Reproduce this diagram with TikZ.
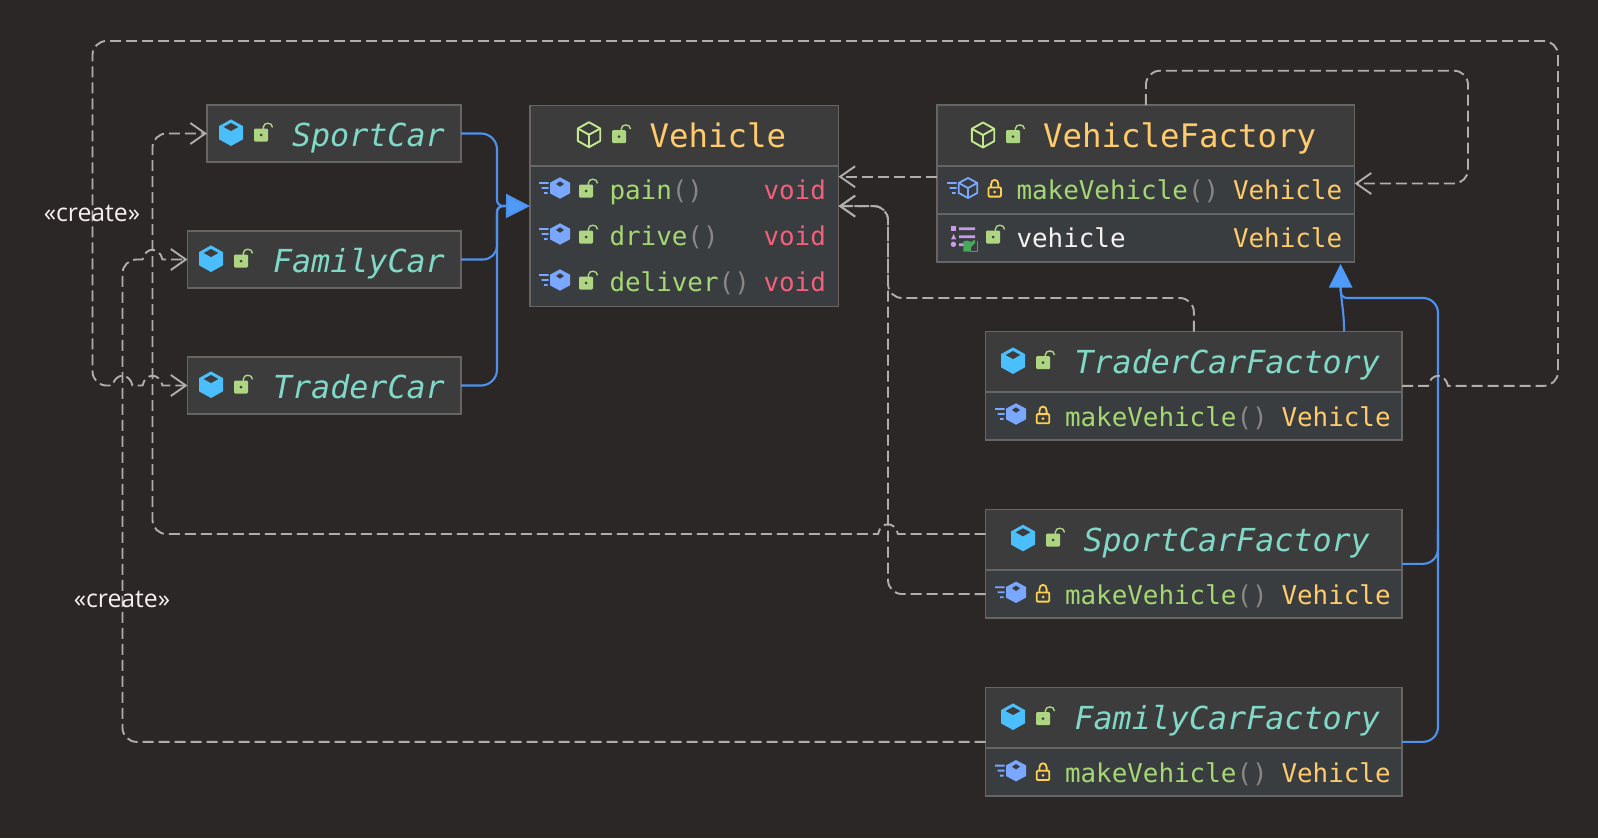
\documentclass[tikz,border=0pt]{standalone}
\usepackage{fontspec}
\usetikzlibrary{arrows.meta,calc}
\newfontfamily\umlmono{DejaVu Sans Mono}
\newfontfamily\labelfont{Open Sans}
\definecolor{bgc}{HTML}{2B2727}
\definecolor{headc}{HTML}{3C3C3C}
\definecolor{bodyc}{HTML}{393D40}
\definecolor{edgec}{HTML}{666564}
\definecolor{dashc}{HTML}{B0AEAC}
\definecolor{bluec}{HTML}{4E92EE}
\definecolor{tipc}{HTML}{4F9BF7}
\definecolor{cubec}{HTML}{4BBEFC}
\definecolor{methc}{HTML}{7AA7FF}
\definecolor{lockg}{HTML}{AED581}
\definecolor{lockout}{HTML}{C3E88D}
\definecolor{locky}{HTML}{FFD04F}
\definecolor{tealc}{HTML}{80D8C6}
\definecolor{yelc}{HTML}{FFCB6B}
\definecolor{grnc}{HTML}{A5D773}
\definecolor{redc}{HTML}{F2607C}
\definecolor{parc}{HTML}{8A8686}
\definecolor{whc}{HTML}{F7F1F2}
\definecolor{purc}{HTML}{C99BEA}
\definecolor{bookc}{HTML}{46A858}
\newcommand{\parens}{{\color{parc}()}}
\newcommand{\compart}[4]{\fill[bodyc] (#1+0.8,#2) rectangle (#3-0.8,#4-0.8);\draw[edgec,line width=1.6pt] (#1,#2) -- (#3,#2);}
\tikzset{
  x=1pt,y=-1pt,
  umlbox/.style={draw=edgec,fill=headc,line width=1.5pt,inner sep=0pt,outer sep=0pt},
  ttl/.style={anchor=base west,inner sep=0pt,outer sep=0pt,font=\umlmono\fontsize{32.4}{33}\selectfont},
  ittl/.style={anchor=base west,inner sep=0pt,outer sep=0pt,text=tealc,font=\umlmono\itshape\fontsize{31.7}{32}\selectfont},
  mem/.style={anchor=base west,inner sep=0pt,outer sep=0pt,font=\umlmono\fontsize{25.9}{26}\selectfont},
  stereo/.style={anchor=base,inner sep=0pt,outer sep=0pt,text=whc,font=\labelfont\fontsize{24.8}{25}\selectfont},
  dep/.style={draw=dashc,line width=1.9pt,dash pattern=on 11pt off 5pt,rounded corners=14pt},
  bar/.style={-{Straight Barb[length=15pt,width=21pt,line width=1.9pt]}},
  inh/.style={draw=bluec,line width=2.1pt},
  solidcube/.pic={
    \fill[cubec] (0,-13.3)--(12,-6.6)--(12,6.6)--(0,13.3)--(-12,6.6)--(-12,-6.6)--cycle;
    \fill[headc] (0,-9.7)--(7.3,-5.7)--(0,-1.7)--(-7.3,-5.7)--cycle;
  },
  linecube/.pic={
    \draw[lockout,line width=1.9pt,line join=round] (0,-12.5)--(11.2,-6.2)--(11.2,6.2)--(0,12.5)--(-11.2,6.2)--(-11.2,-6.2)--cycle;
    \draw[lockout,line width=1.9pt,line join=round] (-11.2,-6.2)--(0,0)--(11.2,-6.2) (0,0)--(0,12.5);
  },
  stripes/.pic={
    \fill[methc] (-21,-6)rectangle(-11.5,-4.2) (-18.5,-1)rectangle(-11.5,0.8) (-16,4)rectangle(-12.5,5.8);
  },
  methhex/.pic={
    \pic{stripes};
    \fill[methc] (0,-10.7)--(10,-5.3)--(10,5.3)--(0,10.7)--(-10,5.3)--(-10,-5.3)--cycle;
    \fill[bodyc] (0,-6.7)--(4,-4)--(0,-1.3)--(-4,-4)--cycle;
  },
  methline/.pic={
    \pic{stripes};
    \draw[methc,line width=1.8pt,line join=round] (0,-10)--(9.3,-5)--(9.3,5)--(0,10)--(-9.3,5)--(-9.3,-5)--cycle;
    \draw[methc,line width=1.8pt,line join=round] (-9.3,-5)--(0,0)--(9.3,-5) (0,0)--(0,10);
  },
  lockopen/.pic={
    \fill[lockg,rounded corners=1.2pt] (-7,-6.5) rectangle (7,6.5);
    \fill[headc] (0,0) circle (1.5);
    \draw[lockg,line width=1.4pt] (2.4,-6) -- (2.4,-8) .. controls (2.4,-13) and (11.5,-13.2) .. (11.5,-7.6);
  },
  lockshut/.pic={
    \draw[locky,line width=1.8pt,rounded corners=1pt] (-6.3,-4.6) rectangle (6.3,4.6);
    \fill[locky] (0,0) circle (1.5);
    \draw[locky,line width=1.8pt] (-3.6,-4.6) -- (-3.6,-8) .. controls (-3.6,-13.5) and (3.6,-13.5) .. (3.6,-8) -- (3.6,-4.6);
  },
  fieldglyph/.pic={
    \fill[purc] (0,0) rectangle (5.2,5.3);
    \fill[purc] (0,13.3) -- (2.6,8) -- (5.2,13.3) -- cycle;
    \fill[purc] (2.4,18.3) circle (2.7);
    \fill[purc] (8,1.3) rectangle (24,4) (8,9.3) rectangle (24,12) (8,17.3) rectangle (14,20);
    \fill[bookc] (12.3,15.5) -- (16,14.5) -- (20.2,16) -- (20.2,25.7) -- (12.3,25.7) -- cycle;
    \fill[bookc] (20.2,16) -- (24,13.5) -- (24,17) -- (20.2,21) -- cycle;
    \draw[bookc,line width=1pt] (20.2,25.4) -- (26.4,25.4) -- (26.4,15);
  },
}
\begin{document}
\begin{tikzpicture}
\useasboundingbox (0,0) rectangle (1598,838);
\fill[bgc] (0,0) rectangle (1598,838);

% boxes
\node[umlbox,minimum width=254pt,minimum height=57pt] (sportcar) at (334,133.5) {};
\node[umlbox,minimum width=273.5pt,minimum height=57pt] (familycar) at (324.25,259.5) {};
\node[umlbox,minimum width=273.5pt,minimum height=57pt] (tradercar) at (324.25,385.5) {};
\node[umlbox,minimum width=308.5pt,minimum height=201.2pt] (vehicle) at (684.25,206.1) {};
\compart{530}{166}{838.5}{306.7}
\node[umlbox,minimum width=417.4pt,minimum height=157pt] (vfactory) at (1145.9,183.5) {};
\compart{937.2}{166}{1354.6}{262}
\draw[edgec,line width=1.6pt] (937.2,214) -- (1354.6,214);
\node[umlbox,minimum width=416.3pt,minimum height=108.3pt] (tfactory) at (1193.85,385.85) {};
\compart{985.7}{391.7}{1402}{440}
\node[umlbox,minimum width=416.3pt,minimum height=108.3pt] (sfactory) at (1193.85,563.85) {};
\compart{985.7}{569.7}{1402}{618}
\node[umlbox,minimum width=416.3pt,minimum height=108.3pt] (ffactory) at (1193.85,741.85) {};
\compart{985.7}{748}{1402}{796}

% generalisations
\draw[inh] (sportcar.east) [rounded corners=16pt] -- (497,133.5) [rounded corners=6pt] -- (497,206) -- (510,206);
\draw[inh] (familycar.east) [rounded corners=14pt] -- (497,259.5) [rounded corners=6pt] -- (497,206) -- (510,206);
\draw[inh] (tradercar.east) [rounded corners=16pt] -- (497,385.5) [rounded corners=6pt] -- (497,206) -- (510,206);
\draw[inh,-{Triangle[length=24pt,width=24pt,fill=tipc]},draw=bluec] (507,206) -- (vehicle.west);
\draw[inh] (sfactory.east) [rounded corners=15pt] -- (1438,563.85) -- (1438,530);
\draw[inh] (ffactory.east) [rounded corners=15pt] -- (1438,741.85) -- (1438,500) [rounded corners=15pt] -- (1438,298) [rounded corners=6pt] -- (1341,298) -- (1340.5,285);
\draw[inh] ([xshift=150.3pt]tfactory.north) .. controls (1344,312) and (1341,300) .. (1340.5,285);
\draw[draw=none,fill=tipc] ([xshift=-14pt,yshift=-2pt]vfactory.south east) -- ([xshift=-25.8pt,yshift=-25.5pt]vfactory.south east) -- ([xshift=-2.2pt,yshift=-25.5pt]vfactory.south east) -- cycle;

% dependencies
\coordinate (vfport) at ([yshift=6.8pt]vfactory.west);
\draw[dep,bar] (vfport) -- (vfport -| vehicle.east);
\draw[dep,bar] (vfactory.north) -- (1146,70.7) -- (1468,70.7) -- (1468,183.5) -- (vfactory.east);
\draw[dep,bar] (tfactory.north) -- (1193.85,298) -- (888,298) -- (888,206.1) -- (vehicle.east);
\draw[dep,bar] ([yshift=-30.2pt]sfactory.west) -- (888,594) -- (888,206.1) -- (vehicle.east);
\draw[dep,bar] ([yshift=29.85pt]sfactory.west) [sharp corners] -- (898,534) .. controls (895,521) and (881,521) .. (878,534) -- (860,534) [rounded corners=14pt] -- (152.5,534) -- (152.5,133.5) -- (sportcar.west);
\draw[dep,bar,sharp corners] (ffactory.west) -- (136.5,741.85) .. controls (128.8,741.85) and (122.5,735.55) .. (122.5,727.85) -- (122.5,273.5) .. controls (122.5,265.8) and (128.8,259.5) .. (136.5,259.5) -- (142.5,259.5) .. controls (145.5,246.5) and (159.5,246.5) .. (162.5,259.5) -- (familycar.west);
\draw[dep,bar,sharp corners] (tfactory.east) -- (1428,385.85) .. controls (1431,372.5) and (1445,372.5) .. (1448,385.85) -- (1544,385.85) .. controls (1551.7,385.85) and (1558,379.55) .. (1558,371.85) -- (1558,55) .. controls (1558,47.3) and (1551.7,41) .. (1544,41) -- (106.5,41) .. controls (98.8,41) and (92.5,47.3) .. (92.5,55) -- (92.5,371.5) .. controls (92.5,379.2) and (98.8,385.5) .. (106.5,385.5) -- (112.5,385.5) .. controls (115.5,372.5) and (129.5,372.5) .. (132.5,385.5) -- (142.5,385.5) .. controls (145.5,372.5) and (159.5,372.5) .. (162.5,385.5) -- (tradercar.west);

% stereotype labels
\node[stereo] (create1) at (92,221.7) {«create»};
\node[stereo] (create2) at (122,607) {«create»};

% icons
\pic at (231,132.7) {solidcube}; \pic at (261,135) {lockopen};
\pic at (211,258.7) {solidcube}; \pic at (241,261) {lockopen};
\pic at (211,384.7) {solidcube}; \pic at (241,387) {lockopen};
\pic at (589,134.7) {linecube}; \pic at (619,136.7) {lockopen};
\foreach \yy in {188,234,280} {\pic at (560,\yy) {methhex}; \pic at (586,\yy+3) {lockopen};}
\pic at (983,135) {linecube}; \pic at (1013,136.7) {lockopen};
\pic at (968,188) {methline}; \pic at (994.7,192) {lockshut};
\pic at (951,226) {fieldglyph}; \pic at (993,237) {lockopen};
\pic at (1013,360.7) {solidcube}; \pic at (1043,362.7) {lockopen};
\pic at (1016,414) {methhex}; \pic at (1043,418.7) {lockshut};
\pic at (1023,538) {solidcube}; \pic at (1053,540) {lockopen};
\pic at (1016,592.3) {methhex}; \pic at (1043,597) {lockshut};
\pic at (1013,716.7) {solidcube}; \pic at (1043,718.7) {lockopen};
\pic at (1016,770.7) {methhex}; \pic at (1043,775.4) {lockshut};

% texts
\node[ittl] (tsport) at (292,146) {SportCar};
\node[ittl] (tfamily) at (273,272) {FamilyCar};
\node[ittl] (ttrader) at (273,398) {TraderCar};
\node[ttl,text=yelc] (tveh) at (649.5,147.5) {Vehicle};
\node[mem,text=grnc] (m1) at (609.5,199) {pain\parens};
\node[mem,text=redc] (r1) at (763.5,199) {void};
\node[mem,text=grnc] (m2) at (609.5,245) {drive\parens};
\node[mem,text=redc] (r2) at (763.5,245) {void};
\node[mem,text=grnc] (m3) at (609.5,291.5) {deliver\parens};
\node[mem,text=redc] (r3) at (763.5,291.5) {void};
\node[ttl,text=yelc] (tvf) at (1043,147.5) {VehicleFactory};
\node[mem,text=grnc] (m4) at (1016.5,199) {makeVehicle\parens};
\node[mem,text=yelc] (r4) at (1233,199) {Vehicle};
\node[mem,text=whc] (m5) at (1016.5,247.5) {vehicle};
\node[mem,text=yelc] (r5) at (1233,247.5) {Vehicle};
\node[ittl] (ttf) at (1074.5,373) {TraderCarFactory};
\node[mem,text=grnc] (m6) at (1065,426) {makeVehicle\parens};
\node[mem,text=yelc] (r6) at (1281.5,426) {Vehicle};
\node[ittl] (tsf) at (1083.5,551) {SportCarFactory};
\node[mem,text=grnc] (m7) at (1065,604) {makeVehicle\parens};
\node[mem,text=yelc] (r7) at (1281.5,604) {Vehicle};
\node[ittl] (tff) at (1074.5,729) {FamilyCarFactory};
\node[mem,text=grnc] (m8) at (1065,782) {makeVehicle\parens};
\node[mem,text=yelc] (r8) at (1281.5,782) {Vehicle};
\end{tikzpicture}
\end{document}
